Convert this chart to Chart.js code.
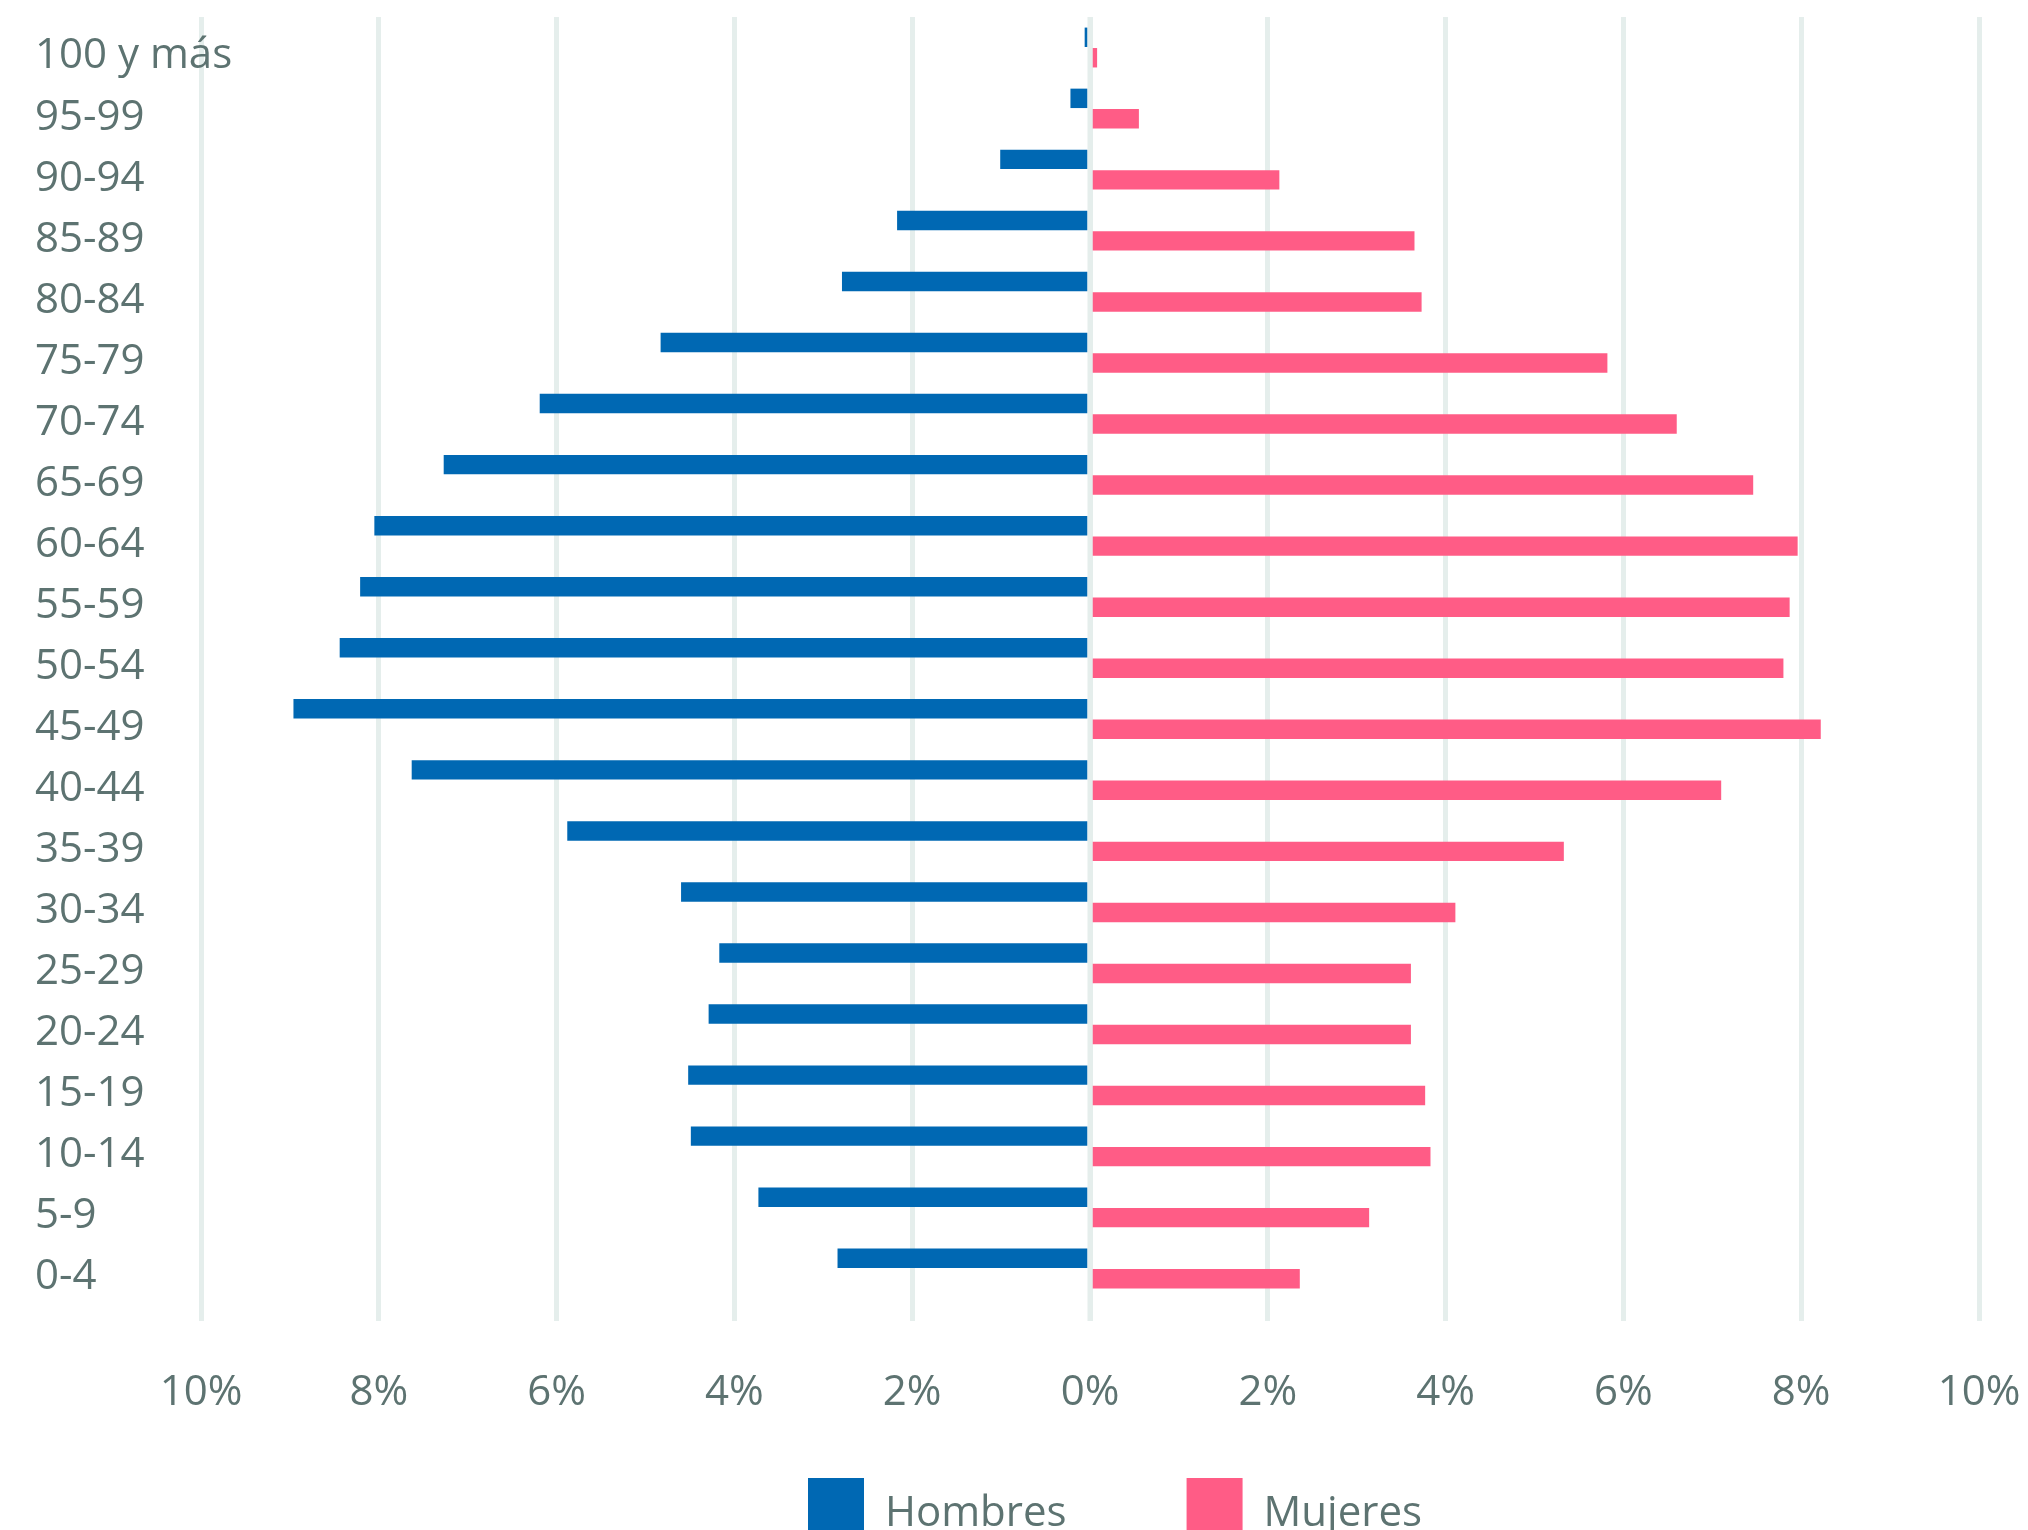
<!DOCTYPE html>
<html lang="es">
<head>
<meta charset="utf-8">
<title>Pirámide de población</title>
<script src="https://cdn.jsdelivr.net/npm/chart.js@4.4.1/dist/chart.umd.min.js"></script>
<style>
    html, body { margin: 0; padding: 0; background: #ffffff; overflow: hidden; }
    #wrap { width: 2028px; height: 1530px; }
</style>
</head>
<body>
<div id="wrap"><canvas id="pyramid" width="2028" height="1530"></canvas></div>
<script>
// Age groups, top to bottom
const ageGroups = ['100 y más', '95-99', '90-94', '85-89', '80-84', '75-79', '70-74', '65-69',
    '60-64', '55-59', '50-54', '45-49', '40-44', '35-39', '30-34', '25-29', '20-24',
    '15-19', '10-14', '5-9', '0-4'];

// Share of population (%), men drawn to the left as negative values
const hombres = [0.06, 0.22, 1.01, 2.17, 2.79, 4.83, 6.19, 7.27, 8.05, 8.21, 8.44,
    8.96, 7.63, 5.88, 4.60, 4.17, 4.29, 4.52, 4.49, 3.73, 2.84];
const mujeres = [0.08, 0.55, 2.13, 3.65, 3.73, 5.82, 6.60, 7.46, 7.96, 7.87, 7.80,
    8.22, 7.10, 5.33, 4.11, 3.61, 3.61, 3.77, 3.83, 3.14, 2.36];

const X_MIN = -10, X_MAX = 10, X_STEP = 2;

const colors = {
    blue: '#0068b3',
    pink: '#ff5c86',
    grid: '#e5eeec',
    text: '#5d7371'
};

// zero line sits on top of the bars
const zeroLine = {
    id: 'zeroLine',
    afterDatasetsDraw(chart) {
        const { ctx, chartArea, scales } = chart;
        const x = scales.x.getPixelForValue(0);
        ctx.save();
        ctx.strokeStyle = colors.grid;
        ctx.lineWidth = 5;
        ctx.beginPath();
        ctx.moveTo(x, chartArea.top);
        ctx.lineTo(x, chartArea.bottom + 22);
        ctx.stroke();
        ctx.restore();
    }
};

// move the legend row to where it sits in the original
const legendPlace = {
    id: 'legendPlace',
    afterLayout(chart) {
        const lg = chart.legend;
        const p = lg.options.labels.padding;
        const w = lg.right - lg.left;
        lg.left = 808 - p;
        lg.right = lg.left + w;
    }
};

Chart.defaults.font.family = "'Open Sans', Lato, sans-serif";
Chart.defaults.font.size = 42;
Chart.defaults.color = colors.text;

new Chart(document.getElementById('pyramid'), {
    type: 'bar',
    data: {
        labels: ageGroups,
        datasets: [
            { label: 'Hombres', data: hombres.map(v => -v), backgroundColor: colors.blue },
            { label: 'Mujeres', data: mujeres, backgroundColor: colors.pink }
        ]
    },
    options: {
        indexAxis: 'y',
        responsive: false,
        animation: false,
        categoryPercentage: 0.67,
        barPercentage: 0.95,
        layout: { padding: { top: 17, left: 35, right: 49, bottom: 0 } },
        scales: {
            x: {
                min: X_MIN,
                max: X_MAX,
                afterFit: (scale) => { scale.height = 59; },
                grid: { color: colors.grid, lineWidth: 5, tickLength: 22 },
                border: { display: false },
                ticks: {
                    stepSize: X_STEP,
                    mirror: true,
                    padding: -119,
                    maxRotation: 0,
                    autoSkip: false,
                    callback: (v) => Math.abs(v) + '%'
                }
            },
            y: {
                afterFit: (scale) => { scale.width = 166; },
                grid: { display: false },
                border: { display: false },
                ticks: { mirror: true, padding: -166, crossAlign: 'near', labelOffset: 9, autoSkip: false }
            }
        },
        plugins: {
            legend: {
                position: 'bottom',
                align: 'start',
                maxHeight: 172,
                labels: { boxWidth: 56, boxHeight: 72, padding: 120, color: colors.text }
            },
            tooltip: { enabled: false }
        }
    },
    plugins: [zeroLine, legendPlace]
});
</script>
</body>
</html>
